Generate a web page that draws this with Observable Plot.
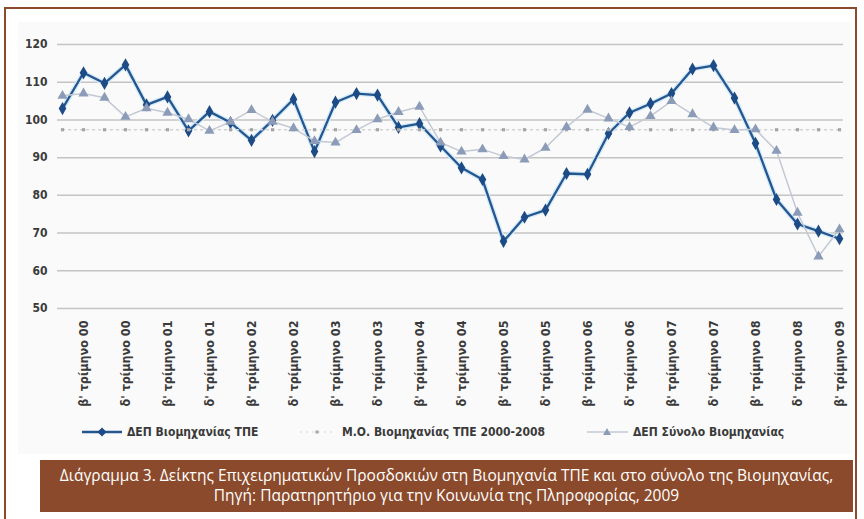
<!DOCTYPE html>
<html><head><meta charset="utf-8">
<script src="https://cdn.jsdelivr.net/npm/d3@7"></script>
<script src="https://cdn.jsdelivr.net/npm/@observablehq/plot@0.6"></script>
<style>
body{margin:0;background:#fff;}
#page{position:relative;width:864px;height:519px;overflow:hidden;}
#frame{position:absolute;left:4px;top:7px;width:853px;height:540px;border:2px solid #8b4a2b;box-sizing:border-box;}
#bg{position:absolute;left:18px;top:22px;width:834px;height:432px;background:#fafafa;}
#chart{position:absolute;left:0;top:0;}
#legend{position:absolute;top:423px;left:0;width:864px;height:18px;font:bold 12px "DejaVu Sans Condensed",sans-serif;color:#3a3a3a;}
.item{position:absolute;top:0;height:18px;display:flex;align-items:center;white-space:nowrap;}
.item svg{margin-right:5px;}
#caption{position:absolute;left:40px;top:460px;width:813px;height:52px;background:#8b4a2b;color:#fff;text-align:center;font:15.5px/20px "Open Sans",sans-serif;padding-top:5px;box-sizing:border-box;white-space:nowrap;}
</style></head>
<body>
<div id="page">
  <div id="frame"></div>
  <div id="bg"></div>
  <div id="chart"></div>
  <div id="legend"></div>
  <div id="caption">Διάγραμμα 3. Δείκτης Επιχειρηματικών Προσδοκιών στη Βιομηχανία ΤΠΕ και στο σύνολο της Βιομηχανίας,<br>Πηγή: Παρατηρητήριο για την Κοινωνία της Πληροφορίας, 2009</div>
</div>
<script>
const quarters = [
 "α' τρίμηνο 00","β' τρίμηνο 00","γ' τρίμηνο 00","δ' τρίμηνο 00",
 "α' τρίμηνο 01","β' τρίμηνο 01","γ' τρίμηνο 01","δ' τρίμηνο 01",
 "α' τρίμηνο 02","β' τρίμηνο 02","γ' τρίμηνο 02","δ' τρίμηνο 02",
 "α' τρίμηνο 03","β' τρίμηνο 03","γ' τρίμηνο 03","δ' τρίμηνο 03",
 "α' τρίμηνο 04","β' τρίμηνο 04","γ' τρίμηνο 04","δ' τρίμηνο 04",
 "α' τρίμηνο 05","β' τρίμηνο 05","γ' τρίμηνο 05","δ' τρίμηνο 05",
 "α' τρίμηνο 06","β' τρίμηνο 06","γ' τρίμηνο 06","δ' τρίμηνο 06",
 "α' τρίμηνο 07","β' τρίμηνο 07","γ' τρίμηνο 07","δ' τρίμηνο 07",
 "α' τρίμηνο 08","β' τρίμηνο 08","γ' τρίμηνο 08","δ' τρίμηνο 08",
 "α' τρίμηνο 09","β' τρίμηνο 09"
];
const tickLabels = [
 "β' τρίμηνο 00","δ' τρίμηνο 00","β' τρίμηνο 01","δ' τρίμηνο 01","β' τρίμηνο 02","δ' τρίμηνο 02",
 "β' τρίμηνο 03","δ' τρίμηνο 03","β' τρίμηνο 04","δ' τρίμηνο 04","β' τρίμηνο 05","δ' τρίμηνο 05",
 "β' τρίμηνο 06","δ' τρίμηνο 06","β' τρίμηνο 07","δ' τρίμηνο 07","β' τρίμηνο 08","δ' τρίμηνο 08",
 "β' τρίμηνο 09"
];
const seriesNames = ["ΔΕΠ Βιομηχανίας ΤΠΕ","Μ.Ο. Βιομηχανίας ΤΠΕ 2000-2008","ΔΕΠ Σύνολο Βιομηχανίας"];
const smeValues = [103,112.5,109.7,114.6,104,106.1,97.1,102.2,99.3,94.6,99.9,105.5,91.6,104.7,107,106.6,98,99,93.1,87.3,84.2,67.8,74.2,76.1,85.8,85.6,96.4,101.9,104.3,107,113.5,114.4,105.8,93.8,78.9,72.4,70.5,68.5];
const avgValues = [97.4,97.4,97.4,97.4,97.4,97.4,97.4,97.4,97.4,97.4,97.4,97.4,97.4,97.4,97.4,97.4,97.4,97.4,97.4,97.4,97.4,97.4,97.4,97.4,97.4,97.4,97.4,97.4,97.4,97.4,97.4,97.4,97.4,97.4,97.4,97.4,97.4,97.4];
const totalValues = [106.4,107,105.9,100.8,103.1,101.9,100.2,97.1,99.5,102.6,99.5,97.8,94.4,94,97.3,100.2,102.1,103.5,94,91.6,92.2,90.4,89.5,92.6,98.1,102.7,100.4,98.1,101,105,101.5,98,97.3,97.5,91.8,75.4,63.8,71];
const yTicks = [50,60,70,80,90,100,110,120];

const data = quarters.map((q,i)=>({q, sme: smeValues[i], avg: avgValues[i], total: totalValues[i]}));

const chart = Plot.plot({
  width: 864, height: 410,
  marginLeft: 57, marginRight: 21, marginTop: 44, marginBottom: 102,
  style: {background: "transparent", fontFamily: "'DejaVu Sans Condensed', sans-serif", fontSize: "12px", color: "#3a3a3a"},
  x: {type: "point", domain: quarters, padding: 0, label: null},
  y: {domain: [50,120], label: null},
  marks: [
    Plot.ruleY(yTicks, {stroke: "#c4c4c4", strokeWidth: 1.5}),
    Plot.axisY({ticks: yTicks, tickSize: 0, tickPadding: 10, fontWeight: "bold", fontSize: 12, label: null}),
    Plot.axisX({ticks: tickLabels, tickSize: 0, tickPadding: 12, tickRotate: -90, fontWeight: "bold", fontSize: 12.5, label: null}),
    Plot.line(data, {x: "q", y: "sme", stroke: "#d6ebf8", strokeWidth: 5}),
    Plot.line(data, {x: "q", y: "sme", stroke: "#24568f", strokeWidth: 2.3}),
    Plot.dot(data, {x: "q", y: "sme", symbol: "diamond", r: 4, fill: "#1d4b85"}),
    Plot.line(data, {x: "q", y: "avg", stroke: "#d2d2d2", strokeWidth: 1.5, strokeDasharray: "2,4"}),
    Plot.dot(data, {x: "q", y: "avg", symbol: "square", r: 1.8, fill: "#a5a5a5"}),
    Plot.line(data, {x: "q", y: "total", stroke: "#c3c9d4", strokeWidth: 1.5}),
    Plot.dot(data, {x: "q", y: "total", symbol: "triangle", r: 3.8, fill: "#8c9cb8"})
  ]
});
document.getElementById("chart").appendChild(chart);

// legend
const legend = document.getElementById("legend");
const swatches = [
  {left: 82, svg: '<svg width="40" height="12"><line x1="0" y1="6" x2="40" y2="6" stroke="#24568f" stroke-width="2.4"/><path d="M20 1.5 L24.5 6 L20 10.5 L15.5 6Z" fill="#1d4b85"/></svg>'},
  {left: 300, svg: '<svg width="37" height="12"><line x1="0" y1="6" x2="36" y2="6" stroke="#e2e2e2" stroke-width="1.5" stroke-dasharray="2,4"/><rect x="15.5" y="4.5" width="3" height="3" fill="#a5a5a5"/></svg>'},
  {left: 587, svg: '<svg width="41" height="12"><line x1="0" y1="6" x2="41" y2="6" stroke="#c3c9d4" stroke-width="1.5"/><path d="M20 2 L24 9 L16 9Z" fill="#8c9cb8"/></svg>'}
];
swatches.forEach((s,i)=>{
  const d = document.createElement("div");
  d.className = "item";
  d.style.left = s.left + "px";
  d.innerHTML = s.svg + "<span>" + seriesNames[i] + "</span>";
  legend.appendChild(d);
});
</script>
</body></html>
